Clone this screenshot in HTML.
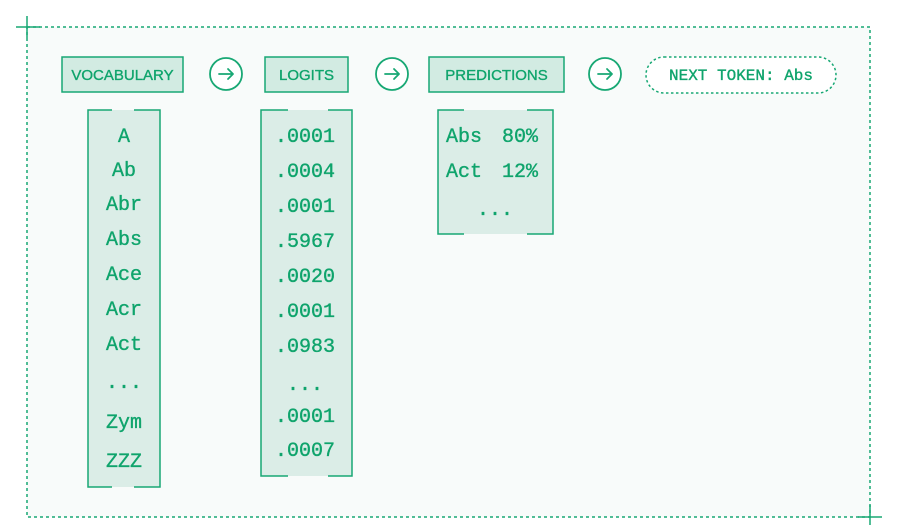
<!DOCTYPE html>
<html><head><meta charset="utf-8"><style>
html,body{margin:0;padding:0;background:#fff;}
svg{display:block;}
text{font-family:"Liberation Mono","DejaVu Sans Mono",monospace;fill:#0fa46c;stroke:#0fa46c;stroke-width:0.35;}
.h{font-family:"Liberation Sans",sans-serif;}
</style></head><body>
<svg width="897" height="525" viewBox="0 0 897 525" xmlns="http://www.w3.org/2000/svg">
<rect x="27" y="27" width="843" height="490" fill="#f8fbfa" stroke="#18a874" stroke-width="1.5" stroke-dasharray="3,3"/>
<g stroke="#18a874" stroke-width="1.5">
<line x1="16" y1="27" x2="40" y2="27"/><line x1="27" y1="16" x2="27" y2="38"/>
<line x1="858" y1="517" x2="882" y2="517"/><line x1="870" y1="505" x2="870" y2="525"/>
</g>
<g fill="#d2ebe2" stroke="#18a874" stroke-width="1.5">
<rect x="62" y="57" width="121" height="35"/>
<rect x="265" y="57" width="83" height="35"/>
<rect x="429" y="57" width="135" height="35"/>
</g>
<rect x="646" y="57" width="190" height="36" rx="18" fill="#fff" stroke="#18a874" stroke-width="1.5" stroke-dasharray="2.5,2.5"/>
<g font-size="15" text-anchor="middle">
<text class="h" x="122.5" y="80">VOCABULARY</text>
<text class="h" x="306.5" y="80">LOGITS</text>
<text class="h" x="496.5" y="80">PREDICTIONS</text>
<text x="741" y="80" font-size="16">NEXT TOKEN: Abs</text>
</g>
<g fill="#fff" stroke="#18a874" stroke-width="1.8">
<circle cx="226" cy="74" r="16"/><circle cx="392" cy="74" r="16"/><circle cx="605" cy="74" r="16"/>
</g>
<g fill="none" stroke="#18a874" stroke-width="1.8" stroke-linecap="round" stroke-linejoin="round">
<path d="M219 74h14M228 69l5 5-5 5"/>
<path d="M385 74h14M394 69l5 5-5 5"/>
<path d="M598 74h14M607 69l5 5-5 5"/>
</g>
<g fill="#dbede7" stroke="none">
<rect x="88" y="110" width="72" height="377"/>
<rect x="261" y="110" width="91" height="366"/>
<rect x="438" y="110" width="115" height="124"/>
</g>
<g fill="none" stroke="#18a874" stroke-width="1.5">
<path d="M112 110H88V487H112M134 110H160V487H134"/>
<path d="M288 110H261V476H288M328 110H352V476H328"/>
<path d="M464 110H438V234H464M527 110H553V234H527"/>
</g>
<g font-size="20" text-anchor="middle">
<text x="124" y="142">A</text>
<text x="124" y="176">Ab</text>
<text x="124" y="210">Abr</text>
<text x="124" y="245">Abs</text>
<text x="124" y="280">Ace</text>
<text x="124" y="315">Acr</text>
<text x="124" y="350">Act</text>
<text x="124" y="388">...</text>
<text x="124" y="428">Zym</text>
<text x="124" y="467">ZZZ</text>
<text x="305" y="142">.0001</text>
<text x="305" y="177">.0004</text>
<text x="305" y="212">.0001</text>
<text x="305" y="247">.5967</text>
<text x="305" y="282">.0020</text>
<text x="305" y="317">.0001</text>
<text x="305" y="352">.0983</text>
<text x="305" y="390">...</text>
<text x="305" y="422">.0001</text>
<text x="305" y="456">.0007</text>
<text x="495" y="215">...</text>
</g>
<g font-size="20">
<text x="446" y="142">Abs</text><text x="502" y="142">80%</text>
<text x="446" y="177">Act</text><text x="502" y="177">12%</text>
</g>
</svg>
</body></html>
